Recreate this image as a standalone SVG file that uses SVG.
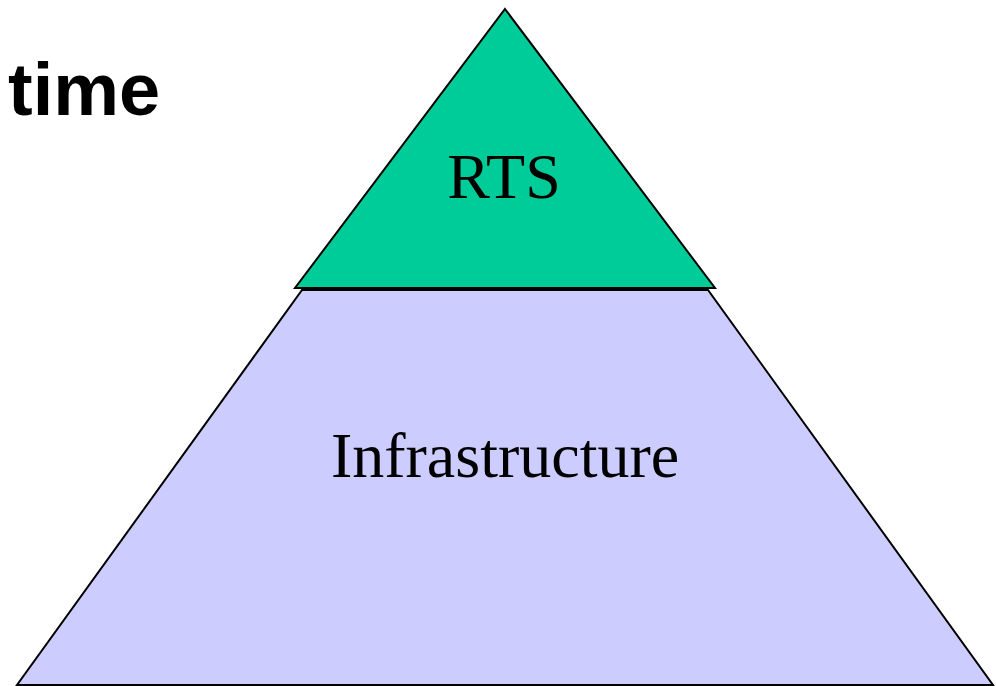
<svg xmlns="http://www.w3.org/2000/svg" width="996" height="686" viewBox="0 0 996 686">
<style>
.shape{stroke:#000;stroke-width:2;stroke-linejoin:miter}
.lbl{font-family:"Liberation Serif","Times New Roman",serif;text-anchor:middle;fill:#000}
</style>
<rect width="996" height="686" fill="#fff"/>
<text x="8" y="115" font-family="Liberation Sans, Arial, sans-serif" font-weight="bold" font-size="74" fill="#000">time</text>
<g id="infrastructure">
<polygon class="shape" points="302,290 708,290 993,685 17,685" fill="#CCCCFF"/>
<text class="lbl" x="505" y="477" font-size="64">Infrastructure</text>
</g>
<g id="rts">
<polygon class="shape" points="505,9 715,288 295,288" fill="#00CC99"/>
<text class="lbl" x="504" y="198" font-size="64">RTS</text>
</g>
<g id="connectors"></g>
</svg>
